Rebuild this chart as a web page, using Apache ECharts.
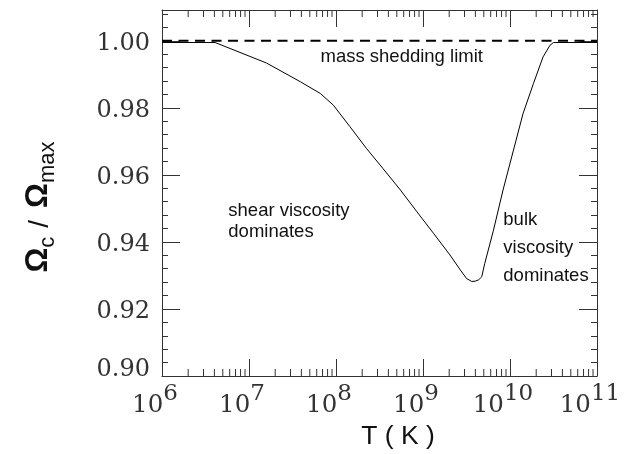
<!DOCTYPE html>
<html>
<head>
<meta charset="utf-8">
<script src="https://cdn.jsdelivr.net/npm/echarts@6/dist/echarts.min.js"></script>
<style>
  html, body { margin: 0; padding: 0; background: #fff; }
  #chart { width: 624px; height: 454px; }
</style>
</head>
<body>
<div id="chart"></div>
<script>
// ---- data ----
const logT = [6.00, 6.61, 7.20, 7.59, 7.82, 7.97, 8.16, 8.35, 8.54, 8.74,
              8.93, 9.12, 9.31, 9.43, 9.50, 9.56, 9.60, 9.64, 9.675, 9.71,
              9.81, 9.92, 10.04, 10.15, 10.27, 10.38, 10.46, 10.50, 11.00];
const omegaRatio = [0.9995, 0.9995, 0.9934, 0.9878, 0.9843, 0.9808, 0.9744, 0.9679, 0.9619, 0.9555,
                    0.9490, 0.9426, 0.9361, 0.9316, 0.9291, 0.9282, 0.9283, 0.9287, 0.9296, 0.9336,
                    0.9435, 0.9555, 0.9674, 0.9783, 0.9873, 0.9952, 0.9987, 0.9995, 0.9995];
const sheddingLimitT = [6, 11];
const sheddingLimitValue = [1.0, 1.0];
const xDecades = [6, 7, 8, 9, 10, 11];
const yTickLabels = ['0.90', '0.92', '0.94', '0.96', '0.98', '1.00'];
const X_MIN = 6, X_MAX = 11, Y_MIN = 0.90, Y_MAX = 1.0092;

// minor tick positions of log axis (2..9 x 10^n)
const minorX = [];
for (let n = 6; n < 11; n++) for (let k = 2; k <= 9; k++) minorX.push([n + Math.log10(k)]);

const curve = logT.map((t, i) => [t, omegaRatio[i]]);
const limit = sheddingLimitT.map((t, i) => [t, sheddingLimitValue[i]]);

const AX = '#333';
const LBL = '#333';
const serif = 'DejaVu Serif';
const sans = 'Liberation Sans';

const chart = echarts.init(document.getElementById('chart'), null, { renderer: 'canvas' });

function baseY(extra) {
  return Object.assign({
    type: 'value', min: Y_MIN, max: Y_MAX,
    splitLine: { show: false },
    axisLine: { show: false },
    axisLabel: { show: false },
    axisTick: { show: true, inside: true, lineStyle: { color: AX, width: 1 } }
  }, extra);
}

const option = {
  animation: false,
  backgroundColor: '#fff',
  grid: { left: 162, right: 27, top: 10, bottom: 78, containLabel: false },
  xAxis: [
    {
      type: 'value', min: X_MIN, max: X_MAX, interval: 1, position: 'bottom',
      splitLine: { show: false },
      axisLine: { show: true, onZero: false, lineStyle: { color: AX, width: 1 } },
      axisTick: { show: true, inside: true, length: 17, lineStyle: { color: AX, width: 1 } },
      axisLabel: {
        show: true, margin: 7, color: LBL,
        formatter: function (v) {
          if (xDecades.indexOf(Math.round(v)) < 0 || Math.abs(v - Math.round(v)) > 1e-6) return '';
          return '{b|10}{s|' + Math.round(v) + '}';
        },
        rich: {
          b: { fontFamily: serif, fontSize: 24.5, lineHeight: 35, verticalAlign: 'bottom', color: LBL },
          s: { fontFamily: serif, fontSize: 23, verticalAlign: 'top', color: LBL, padding: [0, 14, 0, 0] }
        }
      }
    },
    {
      type: 'value', min: X_MIN, max: X_MAX, interval: 1, position: 'top',
      splitLine: { show: false },
      axisLine: { show: true, onZero: false, lineStyle: { color: AX, width: 1 } },
      axisTick: { show: true, inside: true, length: 17, lineStyle: { color: AX, width: 1 } },
      axisLabel: { show: false }
    }
  ],
  yAxis: [
    baseY({
      position: 'left', interval: 0.02,
      axisLine: { show: true, onZero: false, lineStyle: { color: AX, width: 1 } },
      axisTick: { show: true, inside: true, length: 18, lineStyle: { color: AX, width: 1 } },
      axisLabel: {
        show: true, margin: 12, showMaxLabel: false, color: LBL,
        formatter: function (v) {
          const idx = Math.round((v - Y_MIN) / 0.02);
          if (Math.abs((v - Y_MIN) / 0.02 - idx) > 1e-6 || idx < 0 || idx >= yTickLabels.length) return '';
          return idx === 0 ? '{lo|' + yTickLabels[idx] + '}' : '{n|' + yTickLabels[idx] + '}';
        },
        rich: {
          n: { fontFamily: serif, fontSize: 24, color: LBL, padding: [6, 0, 0, 0] },
          lo: { fontFamily: serif, fontSize: 24, color: LBL, padding: [0, 0, 12, 0] }
        }
      }
    }),
    baseY({ position: 'left', interval: 0.004, axisTick: { show: true, inside: true, length: 6, lineStyle: { color: AX, width: 1 } } }),
    baseY({
      position: 'right', interval: 0.02,
      axisLine: { show: true, onZero: false, lineStyle: { color: AX, width: 1 } },
      axisTick: { show: true, inside: true, length: 18, lineStyle: { color: AX, width: 1 } }
    }),
    baseY({ position: 'right', interval: 0.004, axisTick: { show: true, inside: true, length: 6, lineStyle: { color: AX, width: 1 } } })
  ],
  series: [
    {
      type: 'custom', xAxisIndex: 0, yAxisIndex: 0, silent: true,
      data: minorX,
      renderItem: function (params, api) {
        const x = api.value(0);
        const pb = api.coord([x, Y_MIN]);
        const pt = api.coord([x, Y_MAX]);
        return {
          type: 'group',
          children: [
            { type: 'line', shape: { x1: pb[0], y1: pb[1], x2: pb[0], y2: pb[1] - 7 }, style: { stroke: AX, lineWidth: 1 } },
            { type: 'line', shape: { x1: pt[0], y1: pt[1], x2: pt[0], y2: pt[1] + 7 }, style: { stroke: AX, lineWidth: 1 } }
          ]
        };
      }
    },
    {
      type: 'line', xAxisIndex: 0, yAxisIndex: 0, data: curve,
      symbol: 'none', smooth: false,
      lineStyle: { color: '#000', width: 1 }
    },
    {
      type: 'line', xAxisIndex: 0, yAxisIndex: 0, data: limit,
      symbol: 'none',
      lineStyle: { color: '#000', width: 2, type: [10, 6.5] }
    }
  ],
  graphic: [
    { type: 'text', x: 401.7, y: 56.5, style: { text: 'mass shedding limit', font: '18.5px "Liberation Sans"', fill: '#111', align: 'center', verticalAlign: 'middle' } },
    { type: 'text', x: 228.3, y: 210.7, style: { text: 'shear viscosity', font: '18.5px "Liberation Sans"', fill: '#111', align: 'left', verticalAlign: 'middle' } },
    { type: 'text', x: 228.3, y: 232, style: { text: 'dominates', font: '18.5px "Liberation Sans"', fill: '#111', align: 'left', verticalAlign: 'middle' } },
    { type: 'text', x: 503.3, y: 219.7, style: { text: 'bulk', font: '18.5px "Liberation Sans"', fill: '#111', align: 'left', verticalAlign: 'middle' } },
    { type: 'text', x: 503.3, y: 248, style: { text: 'viscosity', font: '18.5px "Liberation Sans"', fill: '#111', align: 'left', verticalAlign: 'middle' } },
    { type: 'text', x: 503.3, y: 275.7, style: { text: 'dominates', font: '18.5px "Liberation Sans"', fill: '#111', align: 'left', verticalAlign: 'middle' } },
    { type: 'text', x: 398, y: 437, style: { text: 'T ( K )', font: '26.5px "Liberation Sans"', fill: '#111', align: 'center', verticalAlign: 'middle' } },
    {
      type: 'text', x: 41, y: 207, rotation: Math.PI / 2,
      style: {
        text: '{o|Ω}{sub|c}{sl|/}{o|Ω}{sub|max}',
        align: 'center', verticalAlign: 'middle', fill: '#111',
        rich: {
          o: { fontFamily: sans, fontSize: 31, fontWeight: 'bold', verticalAlign: 'bottom', fill: '#111', padding: [0, 0, 5, 0] },
          sub: { fontFamily: sans, fontSize: 22, verticalAlign: 'bottom', fill: '#111' },
          sl: { fontFamily: sans, fontSize: 28, verticalAlign: 'bottom', fill: '#111', padding: [0, 12, 5, 9] }
        }
      }
    }
  ]
};
chart.setOption(option);
</script>
</body>
</html>
